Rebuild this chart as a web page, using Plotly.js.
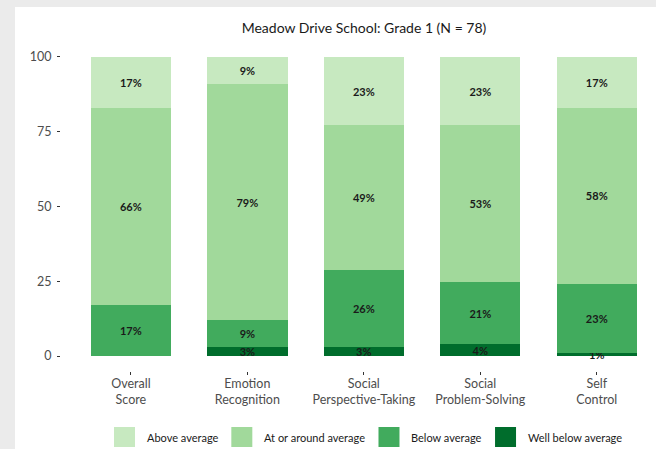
<!DOCTYPE html>
<html>
<head>
<meta charset="utf-8">
<script src="https://cdn.plot.ly/plotly-3.0.1.min.js"></script>
<style>
  html, body { margin: 0; padding: 0; background: #ebebeb; width: 656px; height: 449px; overflow: hidden; }
  #chart { position: absolute; left: 15px; top: 7px; width: 641px; height: 442px; background: #ffffff; }
</style>
</head>
<body>
<div id="chart"></div>
<script>
// Domains of the social-emotional assessment
const categories = [
  "Overall<br>Score",
  "Emotion<br>Recognition",
  "Social<br>Perspective-Taking",
  "Social<br>Problem-Solving",
  "Self<br>Control"
];

// Percentage of students in each performance band (bottom to top of the stack)
const wellBelowAverage = [0, 3, 3, 4, 1];
const belowAverage     = [17, 9, 26, 21, 23];
const aroundAverage    = [66, 79, 49, 53, 58];
const aboveAverage     = [17, 9, 23, 23, 17];

const seriesNames  = ["Well below average", "Below average", "At or around average", "Above average"];
const seriesColors = ["#006d2c", "#41ab5d", "#a1d99b", "#c7e9c0"];
const seriesValues = [wellBelowAverage, belowAverage, aroundAverage, aboveAverage];

const yTicks = [0, 25, 50, 75, 100];
const chartTitle = "Meadow Drive School: Grade 1 (N = 78)";

const FONT = "Lato, 'Open Sans', sans-serif";
const LEGEND_FONT_SIZE = 11;

const traces = seriesValues.map((vals, i) => ({
  type: "bar",
  name: seriesNames[i],
  x: categories,
  y: vals,
  width: 0.69,
  marker: { color: seriesColors[i], line: { width: 0 } },
  text: vals.map(v => (v > 0 ? v + "%" : "")),
  textposition: "inside",
  insidetextanchor: "middle",
  textangle: 0,
  constraintext: "none",
  textfont: { family: FONT, size: 11, color: "#1a1a1a", weight: "bold" },
  hoverinfo: "name+text",
  showlegend: false
}));

// Plot-area geometry inside the div (pixels)
const W = 641, H = 442;
const M = { l: 46, r: 1, t: 35, b: 78 };
const pw = W - M.l - M.r, ph = H - M.t - M.b;
const px = x => (x - M.l) / pw;
const py = y => (H - M.b - y) / ph;

// Measure legend labels so the key/label pairs are spaced evenly
const ctx = document.createElement("canvas").getContext("2d");
ctx.font = LEGEND_FONT_SIZE + "px Lato";
const textWidth = s => ctx.measureText(s).width;

// Legend drawn below the plot, left to right from lightest band
const legendOrder = [3, 2, 1, 0];
const box = 21, boxTop = 420, keyGap = 10, itemGap = 15;
const shapes = [], annotations = [];
let cursor = 99;
legendOrder.forEach(s => {
  shapes.push({
    type: "rect", xref: "paper", yref: "paper",
    x0: px(cursor), x1: px(cursor + box), y0: py(boxTop + box - 1), y1: py(boxTop),
    fillcolor: seriesColors[s], line: { width: 0 }
  });
  const tx = cursor + box + keyGap;
  annotations.push({
    xref: "paper", yref: "paper", x: px(tx), y: py(boxTop + box / 2),
    xanchor: "left", yanchor: "middle", showarrow: false,
    text: seriesNames[s], font: { family: FONT, size: LEGEND_FONT_SIZE, color: "#1a1a1a" }
  });
  cursor = tx + textWidth(seriesNames[s]) + itemGap;
});

const layout = {
  width: W, height: H,
  margin: M,
  paper_bgcolor: "#ffffff",
  plot_bgcolor: "#ffffff",
  barmode: "stack",
  barnorm: "percent",
  showlegend: false,
  title: {
    text: chartTitle,
    font: { family: FONT, size: 14, color: "#1a1a1a" },
    xref: "paper", x: px(349), xanchor: "center",
    yref: "container", y: 1 - 21 / H, yanchor: "middle"
  },
  xaxis: {
    type: "category",
    range: [-0.6, 4.5],
    showgrid: false, zeroline: false, showline: false,
    ticks: "outside", ticklen: 3, tickwidth: 1, tickcolor: "#333333",
    ticklabelstandoff: -2,
    tickfont: { family: FONT, size: 12.5, color: "#4d4d4d" },
    fixedrange: true
  },
  yaxis: {
    range: [-5, 105],
    tickvals: yTicks,
    ticktext: yTicks.map(String),
    showgrid: false, zeroline: false, showline: false,
    ticks: "outside", ticklen: 3, tickwidth: 1, tickcolor: "#333333",
    ticklabelstandoff: 3,
    tickfont: { family: FONT, size: 12.5, color: "#4d4d4d" },
    fixedrange: true
  },
  shapes: shapes,
  annotations: annotations
};

Plotly.newPlot("chart", traces, layout, { displayModeBar: false, staticPlot: true });
</script>
</body>
</html>
